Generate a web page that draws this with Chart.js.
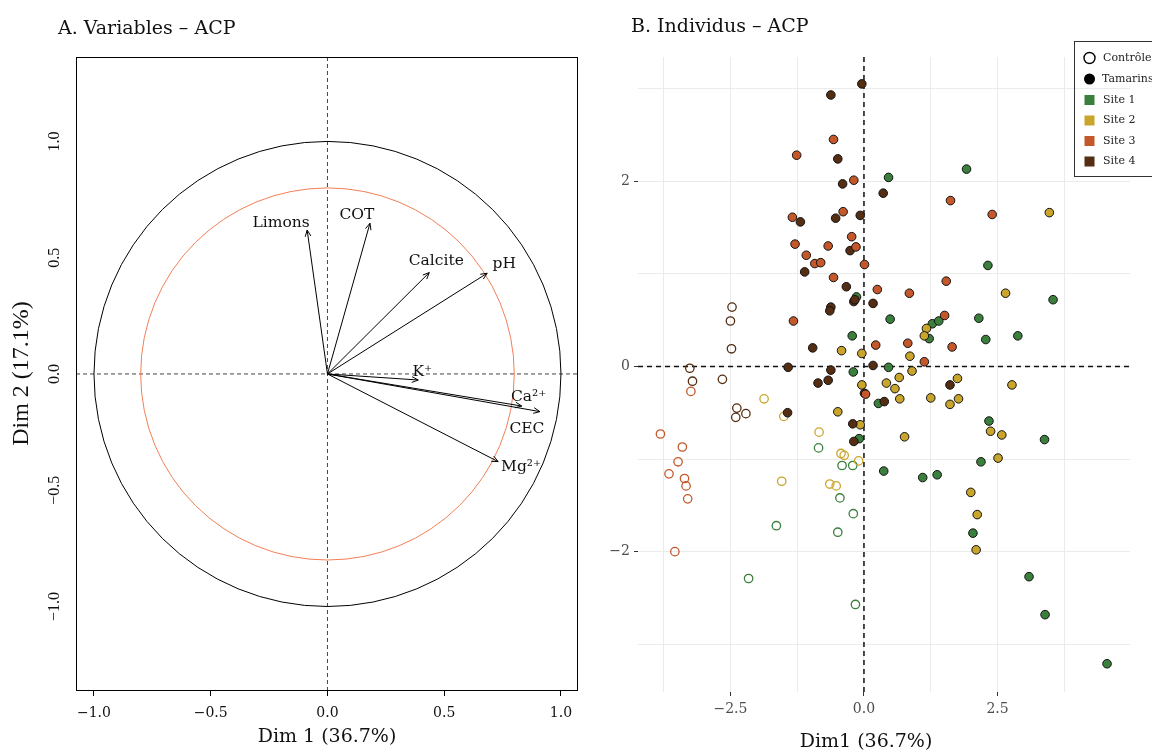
<!DOCTYPE html>
<html lang="fr">
<head>
<meta charset="utf-8">
<title>ACP – variables et individus</title>
<script src="https://cdn.jsdelivr.net/npm/chart.js@4.4.1/dist/chart.umd.min.js"></script>
<style>
  html, body { margin:0; padding:0; background:#ffffff; }
  body { width:1152px; height:752px; position:relative; overflow:hidden; }
  #ca { position:absolute; left:0; top:0; }
  #cb { position:absolute; left:590px; top:0; }
  .ttl { position:absolute; z-index:2; font-family:"DejaVu Serif", serif; font-size:19px; line-height:22px; color:#111; white-space:nowrap; }
</style>
</head>
<body>
<div class="ttl" style="left:58px; top:16px;">A. Variables – ACP</div>
<div class="ttl" style="left:631px; top:14px;">B. Individus – ACP</div>
<canvas id="ca" width="590" height="752"></canvas>
<canvas id="cb" width="562" height="752"></canvas>
<script>
// ---------- Panel A : variables ----------
const varNames = ['Limons', 'COT', 'Calcite', 'pH', 'K\u207A', 'Ca\u00B2\u207A', 'CEC', 'Mg\u00B2\u207A'];
const varDim1  = [-0.087, 0.182, 0.436, 0.684, 0.389, 0.832, 0.910, 0.731];
const varDim2  = [ 0.619, 0.648, 0.436, 0.433, -0.026, -0.138, -0.162, -0.377];
const varTicks = [-1.0, -0.5, 0.0, 0.5, 1.0];

// ---------- Panel B : individus ----------
const groupNames = ['Contrôle', 'Tamarins'];
const siteNames  = ['Site 1', 'Site 2', 'Site 3', 'Site 4'];

const ctrlSite1 = [[-0.85,-0.88],[-0.41,-1.07],[-0.21,-1.07],[-0.45,-1.42],[-0.20,-1.59],[-1.64,-1.72],[-0.49,-1.79],[-2.16,-2.29],[-0.16,-2.57]];
const ctrlSite2 = [[-1.87,-0.35],[-1.50,-0.54],[-1.54,-1.24],[-0.84,-0.71],[-0.43,-0.94],[-0.37,-0.96],[-0.10,-1.02],[-0.64,-1.27],[-0.52,-1.29]];
const ctrlSite3 = [[-3.24,-0.27],[-3.81,-0.73],[-3.40,-0.87],[-3.48,-1.03],[-3.65,-1.16],[-3.36,-1.21],[-3.33,-1.29],[-3.30,-1.43],[-3.54,-2.00]];
const ctrlSite4 = [[-2.47,0.64],[-2.50,0.49],[-2.48,0.19],[-3.26,-0.02],[-3.21,-0.16],[-2.65,-0.14],[-2.38,-0.45],[-2.21,-0.51],[-2.40,-0.55]];

const tamSite1 = [[0.46,2.04],[1.92,2.13],[2.32,1.09],[3.54,0.72],[0.49,0.51],[2.15,0.52],[1.28,0.46],[1.40,0.49],[1.22,0.30],[2.28,0.29],[2.88,0.33],[-0.22,0.33],[-0.14,0.75],[-0.20,-0.06],[0.46,-0.01],[0.27,-0.40],[-0.09,-0.78],[2.34,-0.59],[3.38,-0.79],[2.19,-1.03],[0.37,-1.13],[1.10,-1.20],[1.37,-1.17],[2.04,-1.80],[3.09,-2.27],[3.39,-2.68],[4.55,-3.21]];
const tamSite2 = [[3.47,1.66],[2.65,0.79],[1.17,0.41],[1.13,0.33],[-0.42,0.17],[-0.04,0.14],[0.86,0.11],[0.90,-0.05],[0.66,-0.12],[0.42,-0.18],[-0.04,-0.20],[0.58,-0.24],[1.75,-0.13],[0.67,-0.35],[1.25,-0.34],[1.77,-0.35],[1.61,-0.41],[-0.49,-0.49],[-0.07,-0.63],[0.76,-0.76],[2.77,-0.20],[2.37,-0.70],[2.58,-0.74],[2.51,-0.99],[2.00,-1.36],[2.12,-1.60],[2.10,-1.98]];
const tamSite3 = [[-0.57,2.45],[-1.26,2.28],[-0.19,2.01],[-1.34,1.61],[-0.39,1.67],[-0.23,1.40],[-1.29,1.32],[-0.67,1.30],[-0.15,1.29],[-1.08,1.20],[-0.92,1.11],[-0.81,1.12],[0.01,1.10],[-0.57,0.96],[1.62,1.79],[2.40,1.64],[1.54,0.92],[0.25,0.83],[0.85,0.79],[-1.32,0.49],[1.51,0.55],[0.22,0.23],[0.82,0.25],[1.65,0.21],[1.13,0.05],[0.03,-0.30]];
const tamSite4 = [[-0.04,3.05],[-0.62,2.93],[-0.49,2.24],[-0.40,1.97],[0.36,1.87],[-1.19,1.56],[-0.53,1.60],[-0.07,1.63],[-0.26,1.25],[-1.11,1.02],[-0.33,0.86],[-0.19,0.70],[-0.17,0.72],[0.17,0.68],[-0.62,0.64],[-0.64,0.60],[-0.96,0.20],[-1.42,-0.01],[-0.62,-0.04],[0.17,0.01],[-0.86,-0.18],[-0.67,-0.15],[0.01,-0.29],[1.61,-0.20],[0.38,-0.38],[-1.43,-0.50],[-0.21,-0.62],[-0.19,-0.81]];

const indGridX  = [-3.75, -2.5, -1.25, 0, 1.25, 2.5, 3.75];
const indGridY  = [-3, -2, -1, 0, 1, 2, 3];
const indLabelX = [-2.5, 0, 2.5];
const indLabelY = [-2, 0, 2];

// ---------- styles ----------
const SERIF = '"DejaVu Serif", serif';
const TIMES = '"Liberation Serif", serif';
const siteColors = ['#3b7f3d', '#c9a52c', '#c4582b', '#552d12'];
const fmt1 = v => (v < -1e-9 ? '\u2212' : '') + Math.abs(v).toFixed(1);
const fmt0 = v => (v < -1e-9 ? '\u2212' : '') + Math.abs(Math.round(v));
const has = (arr, v) => arr.some(a => Math.abs(a - v) < 1e-9);

Chart.defaults.font.family = SERIF;
Chart.defaults.color = '#111';

// =================== Chart A ===================
const labelOffsets = [[-26,-7],[-13,-8],[7,-12],[17,-9],[4,-8],[7,-9],[-13,17],[23,5]];

const arrowDatasets = varNames.map((n, i) => ({
  label: n,
  data: [{x: 0, y: 0}, {x: varDim1[i], y: varDim2[i]}],
  showLine: true,
  borderColor: '#000',
  borderWidth: 1,
  pointRadius: 0,
  fill: false
}));

const pluginA = {
  id: 'panelA',
  beforeDatasetsDraw(chart) {
    const {ctx, chartArea: a, scales: {x, y}} = chart;
    const x0 = x.getPixelForValue(0), y0 = y.getPixelForValue(0);
    ctx.save();
    ctx.strokeStyle = '#444'; ctx.lineWidth = 1; ctx.setLineDash([4, 3]);
    ctx.beginPath(); ctx.moveTo(a.left, y0); ctx.lineTo(a.right, y0); ctx.stroke();
    ctx.beginPath(); ctx.moveTo(x0, a.top); ctx.lineTo(x0, a.bottom); ctx.stroke();
    ctx.setLineDash([]);
    const rx = x.getPixelForValue(1) - x0, ry = y0 - y.getPixelForValue(1);
    ctx.strokeStyle = '#000'; ctx.lineWidth = 1;
    ctx.beginPath(); ctx.ellipse(x0, y0, rx, ry, 0, 0, Math.PI * 2); ctx.stroke();
    ctx.strokeStyle = '#f27f57';
    ctx.beginPath(); ctx.ellipse(x0, y0, rx * 0.8, ry * 0.8, 0, 0, Math.PI * 2); ctx.stroke();
    ctx.restore();
  },
  afterDatasetsDraw(chart) {
    const {ctx, chartArea: a, scales: {y}} = chart;
    ctx.save();
    ctx.strokeStyle = '#000'; ctx.lineWidth = 1; ctx.fillStyle = '#111';
    ctx.font = '15.5px ' + SERIF; ctx.textAlign = 'center'; ctx.textBaseline = 'middle';
    chart.data.datasets.forEach((ds, i) => {
      const meta = chart.getDatasetMeta(i);
      const p0 = meta.data[0], p1 = meta.data[1];
      const ang = Math.atan2(p1.y - p0.y, p1.x - p0.x);
      const L = 7, w = Math.PI / 7.5;
      ctx.beginPath();
      ctx.moveTo(p1.x - L * Math.cos(ang - w), p1.y - L * Math.sin(ang - w));
      ctx.lineTo(p1.x, p1.y);
      ctx.lineTo(p1.x - L * Math.cos(ang + w), p1.y - L * Math.sin(ang + w));
      ctx.stroke();
      const o = labelOffsets[i];
      ctx.fillText(varNames[i], p1.x + o[0], p1.y + o[1]);
    });
    // frame
    ctx.strokeRect(Math.round(a.left) + 0.5, Math.round(a.top) + 0.5, Math.round(a.width) - 1, Math.round(a.height));
    // rotated y tick labels
    ctx.font = '16px ' + TIMES;
    varTicks.forEach(v => {
      const py = y.getPixelForValue(v);
      ctx.save(); ctx.translate(55, py); ctx.rotate(-Math.PI / 2);
      ctx.fillText(fmt1(v), 0, 0);
      ctx.restore();
    });
    ctx.restore();
  }
};

new Chart(document.getElementById('ca'), {
  type: 'scatter',
  data: {datasets: arrowDatasets},
  options: {
    responsive: false, animation: false, devicePixelRatio: 1,
    layout: {padding: {top: 57, right: 12, left: 0, bottom: 0}},
    plugins: {legend: {display: false}, tooltip: {enabled: false}},
    scales: {
      x: {
        type: 'linear', min: -1.077, max: 1.073,
        afterBuildTicks: s => { s.ticks = varTicks.map(v => ({value: v})); },
        afterFit: s => { s.height = 62; },
        border: {display: false},
        grid: {drawOnChartArea: false, drawTicks: true, tickLength: 6, tickColor: '#000', tickWidth: 1},
        ticks: {font: {family: SERIF, size: 14}, color: '#111', padding: 9, maxRotation: 0, autoSkip: false, callback: v => fmt1(v)},
        title: {display: true, text: 'Dim 1 (36.7%)', font: {family: SERIF, size: 19}, color: '#111', padding: {top: 0, bottom: 4}}
      },
      y: {
        type: 'linear', min: -1.359, max: 1.363,
        afterBuildTicks: s => { s.ticks = varTicks.map(v => ({value: v})); },
        afterFit: s => { s.width = 76; },
        border: {display: false},
        grid: {drawOnChartArea: false, drawTicks: false},
        ticks: {display: false},
        title: {display: true, text: 'Dim 2 (17.1%)', font: {family: TIMES, size: 24}, color: '#111', padding: {top: 7, bottom: 0}}
      }
    }
  },
  plugins: [pluginA]
});

// =================== Chart B ===================
const ctrlSets = [ctrlSite1, ctrlSite2, ctrlSite3, ctrlSite4];
const tamSets  = [tamSite1, tamSite2, tamSite3, tamSite4];
const tamOrder = [8, 7, 5, 6];
const toPts = arr => arr.map(p => ({x: p[0], y: p[1]}));

const datasetsB = [];
ctrlSets.forEach((arr, i) => datasetsB.push({
  label: groupNames[0] + ' ' + siteNames[i],
  data: toPts(arr),
  pointStyle: 'circle', pointRadius: 4.2,
  backgroundColor: 'rgba(255,255,255,0)', borderColor: siteColors[i], pointBorderWidth: 1.3,
  order: 12 - i
}));
tamSets.forEach((arr, i) => datasetsB.push({
  label: groupNames[1] + ' ' + siteNames[i],
  data: toPts(arr),
  pointStyle: 'circle', pointRadius: 4.3,
  backgroundColor: siteColors[i], borderColor: '#111', pointBorderWidth: 1,
  order: tamOrder[i]
}));

const pluginB = {
  id: 'panelB',
  beforeDatasetsDraw(chart) {
    const {ctx, chartArea: a, scales: {x, y}} = chart;
    const x0 = x.getPixelForValue(0), y0 = y.getPixelForValue(0);
    ctx.save();
    ctx.strokeStyle = '#111'; ctx.lineWidth = 1.5; ctx.setLineDash([5, 4]);
    ctx.beginPath(); ctx.moveTo(a.left, y0); ctx.lineTo(a.right, y0); ctx.stroke();
    ctx.beginPath(); ctx.moveTo(x0, a.top); ctx.lineTo(x0, a.bottom); ctx.stroke();
    ctx.restore();
  },
  afterDraw(chart) {
    const {ctx} = chart;
    ctx.save();
    // x-axis title
    ctx.fillStyle = '#111'; ctx.font = '19px ' + SERIF;
    ctx.textAlign = 'center'; ctx.textBaseline = 'middle';
    ctx.fillText('Dim1 (36.7%)', 866 - 590, 742);
    // legend
    const lx = 1074.5 - 590, ly = 41.5;
    ctx.strokeStyle = '#333'; ctx.lineWidth = 1;
    ctx.strokeRect(lx, ly, 100, 135);
    const ix = 1089.5 - 590, tx = 1102 - 590;
    ctx.font = '11px ' + SERIF; ctx.textAlign = 'left'; ctx.fillStyle = '#222';
    // Contrôle (open circle)
    ctx.beginPath(); ctx.arc(ix, 58, 5.5, 0, Math.PI * 2); ctx.strokeStyle = '#000'; ctx.lineWidth = 1.4; ctx.stroke();
    ctx.fillText(groupNames[0], tx + 1, 58);
    // Tamarins (filled circle)
    ctx.beginPath(); ctx.arc(ix, 79, 5.5, 0, Math.PI * 2); ctx.fillStyle = '#000'; ctx.fill();
    ctx.fillStyle = '#222'; ctx.fillText(groupNames[1], tx, 79);
    // sites
    const sy = [100, 120.5, 141, 161.5];
    siteNames.forEach((n, i) => {
      ctx.fillStyle = siteColors[i];
      ctx.fillRect(ix - 5, sy[i] - 5, 10, 10);
      ctx.fillStyle = '#222';
      ctx.fillText(n, tx + 1, sy[i]);
    });
    ctx.restore();
  }
};

new Chart(document.getElementById('cb'), {
  type: 'scatter',
  data: {datasets: datasetsB},
  options: {
    responsive: false, animation: false, devicePixelRatio: 1,
    layout: {padding: {top: 57, right: 22, left: 0, bottom: 0}},
    plugins: {legend: {display: false}, tooltip: {enabled: false}},
    scales: {
      x: {
        type: 'linear', min: -4.23, max: 4.98,
        afterBuildTicks: s => { s.ticks = indGridX.map(v => ({value: v})); },
        afterFit: s => { s.height = 60; },
        border: {display: false},
        grid: {color: '#ebebeb', lineWidth: 1, drawTicks: true, tickLength: 4,
               tickColor: c => (c.tick && has(indLabelX, c.tick.value)) ? '#333' : 'rgba(0,0,0,0)'},
        ticks: {font: {family: SERIF, size: 14}, color: '#4d4d4d', padding: 5, maxRotation: 0, autoSkip: false,
                callback: v => has(indLabelX, v) ? fmt1(v) : ''}
      },
      y: {
        type: 'linear', min: -3.515, max: 3.34,
        afterBuildTicks: s => { s.ticks = indGridY.map(v => ({value: v})); },
        afterFit: s => { s.width = 48; },
        border: {display: false},
        grid: {color: '#ebebeb', lineWidth: 1, drawTicks: true, tickLength: 4,
               tickColor: c => (c.tick && has(indLabelY, c.tick.value)) ? '#333' : 'rgba(0,0,0,0)'},
        ticks: {font: {family: SERIF, size: 14}, color: '#4d4d4d', padding: 4, autoSkip: false,
                callback: v => has(indLabelY, v) ? fmt0(v) : ''}
      }
    }
  },
  plugins: [pluginB]
});
</script>
</body>
</html>
